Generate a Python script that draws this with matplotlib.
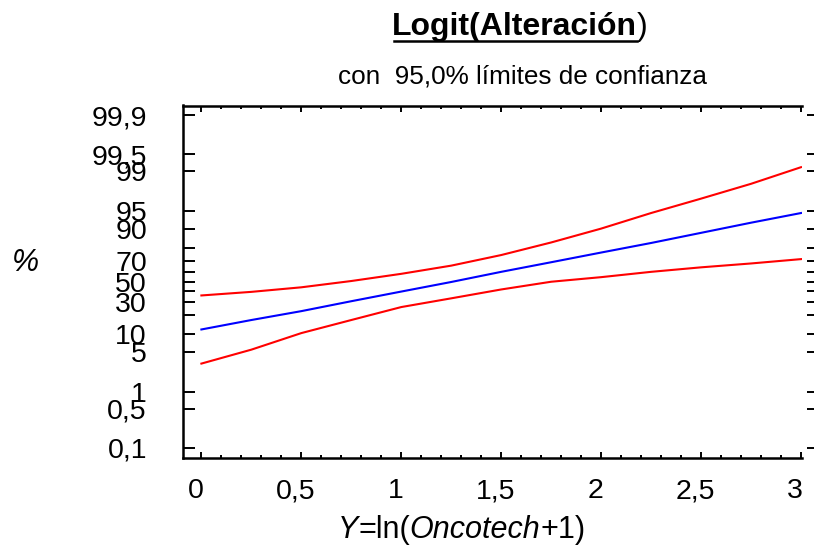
import numpy as np
import matplotlib
matplotlib.use('Agg')
import matplotlib.pyplot as plt
from matplotlib.lines import Line2D
from matplotlib.transforms import ScaledTranslation
from matplotlib.ticker import FixedLocator, FixedFormatter, MultipleLocator, NullLocator, NullFormatter

plt.rcParams['font.family'] = ['Liberation Sans', 'DejaVu Sans']

# values (percent)
x = [0, 0.25, 0.5, 0.75, 1.0, 1.25, 1.5, 1.75, 2.0, 2.25, 2.5, 2.75, 3.0]
pct_fit = [12.0, 16.8, 22.6, 30.6, 39.7, 49.5, 59.9, 69.0, 76.9, 83.2, 88.3, 92.0, 94.5]
pct_upper = [35.9, 39.4, 44.0, 50.5, 57.9, 65.9, 75.0, 83.5, 90.0, 94.5, 96.9, 98.3, 99.14]
pct_lower = [3.2, 5.57, 10.5, 16.8, 25.7, 33.2, 41.8, 49.75, 54.5, 59.9, 64.3, 67.9, 71.7]

ytick_pct = [0.1, 0.5, 1, 5, 10, 20, 30, 40, 50, 60, 70, 80, 90, 95, 99, 99.5, 99.9]
ytick_labels = ['0,1', '0,5', '1', '5', '10', '', '30', '', '50', '', '70', '', '90', '95', '99', '99,5', '99,9']
xtick_vals = [0, 0.5, 1, 1.5, 2, 2.5, 3]
xtick_labels = ['0', '0,5', '1', '1,5', '2', '2,5', '3']


def place_row(fig, pieces, x0, y0, renderer, center=False):
    texts = []
    xpos = x0
    for s, kw in pieces:
        t = fig.text(xpos, y0, s, ha='left', va='baseline', **kw)
        w = t.get_window_extent(renderer).width / fig.bbox.width
        texts.append(t)
        xpos += w
    if center:
        shift = (xpos - x0) / 2
        for t in texts:
            px, py = t.get_position()
            t.set_position((px - shift, py))
    return texts


W, H = 814, 547
fig = plt.figure(figsize=(W / 100, H / 100), dpi=100)
ax = fig.add_axes([183 / W, 1 - 457.5 / H, (802 - 183) / W, (457.5 - 105.5) / H])
ax.set_yscale('logit')

ax.plot(x, np.array(pct_upper) / 100, color='red', lw=1.5)
ax.plot(x, np.array(pct_fit) / 100, color='blue', lw=1.5)
ax.plot(x, np.array(pct_lower) / 100, color='red', lw=1.5)

lim = 1 / (1 + np.exp(7.31))
ax.set_xlim(-0.092, 3.005)
ax.set_ylim(lim, 1 - lim)

ax.yaxis.set_major_locator(FixedLocator(np.array(ytick_pct) / 100))
ax.yaxis.set_major_formatter(FixedFormatter(ytick_labels))
ax.yaxis.set_minor_locator(NullLocator())
ax.yaxis.set_minor_formatter(NullFormatter())
ax.xaxis.set_major_locator(FixedLocator(xtick_vals))
ax.xaxis.set_major_formatter(FixedFormatter(xtick_labels))
ax.xaxis.set_minor_locator(MultipleLocator(0.1))

ax.tick_params(axis='y', which='major', direction='in', length=8.6, width=1.4,
               pad=26, labelsize=20.5, left=True, right=False)
ax.tick_params(axis='x', which='major', direction='in', length=4.5, width=1.4,
               top=True, bottom=True, pad=15, labelsize=20.5)
ax.tick_params(axis='x', which='minor', direction='in', length=2.5, width=1.4,
               top=True, bottom=True)
ax.spines['right'].set_visible(False)
for s in ['left', 'top', 'bottom']:
    ax.spines[s].set_linewidth(1.8)

# x tick labels sit a little left of their ticks in the reference
shift = ScaledTranslation(-6 / 100, 0, fig.dpi_scale_trans)
for lab in ax.get_xticklabels():
    lab.set_transform(lab.get_transform() + shift)

# detached right-hand ticks
twin = ax.twinx()
twin.set_yscale('logit')
twin.set_ylim(ax.get_ylim())
twin.yaxis.set_major_locator(FixedLocator(np.array(ytick_pct) / 100))
twin.yaxis.set_major_formatter(NullFormatter())
twin.yaxis.set_minor_locator(NullLocator())
twin.yaxis.set_minor_formatter(NullFormatter())
twin.spines['right'].set_position(('outward', 8.3))
for s in twin.spines.values():
    s.set_visible(False)
twin.tick_params(axis='y', which='major', direction='in', length=5.4, width=1.4,
                 right=True, left=False)

renderer = fig.canvas.get_renderer()

# title with underline
title = place_row(fig, [('Logit(Alteración', dict(fontsize=23, fontweight='bold')),
                        (')', dict(fontsize=23))],
                  392 / W, 1 - 35 / H, renderer)
bb = title[0].get_window_extent(renderer)
fig.add_artist(Line2D([bb.x0 / W + 0.002, bb.x1 / W], [1 - 41 / H, 1 - 41 / H],
                      transform=fig.transFigure, color='black', lw=1.8))

fig.text(523 / W, 1 - 83 / H, 'con  95,0% límites de confianza', fontsize=18.8,
         ha='center', va='baseline')

place_row(fig, [('Y', dict(fontsize=22, style='italic')),
                ('=ln(', dict(fontsize=22)),
                ('Oncotech', dict(fontsize=22, style='italic')),
                ('+1)', dict(fontsize=22))],
          461.7 / W, 1 - 538 / H, renderer, center=True)

fig.text(25 / W, 1 - 263 / H, '%', fontsize=22, style='italic', ha='center', va='center')

fig.savefig('out.png', dpi=100)
